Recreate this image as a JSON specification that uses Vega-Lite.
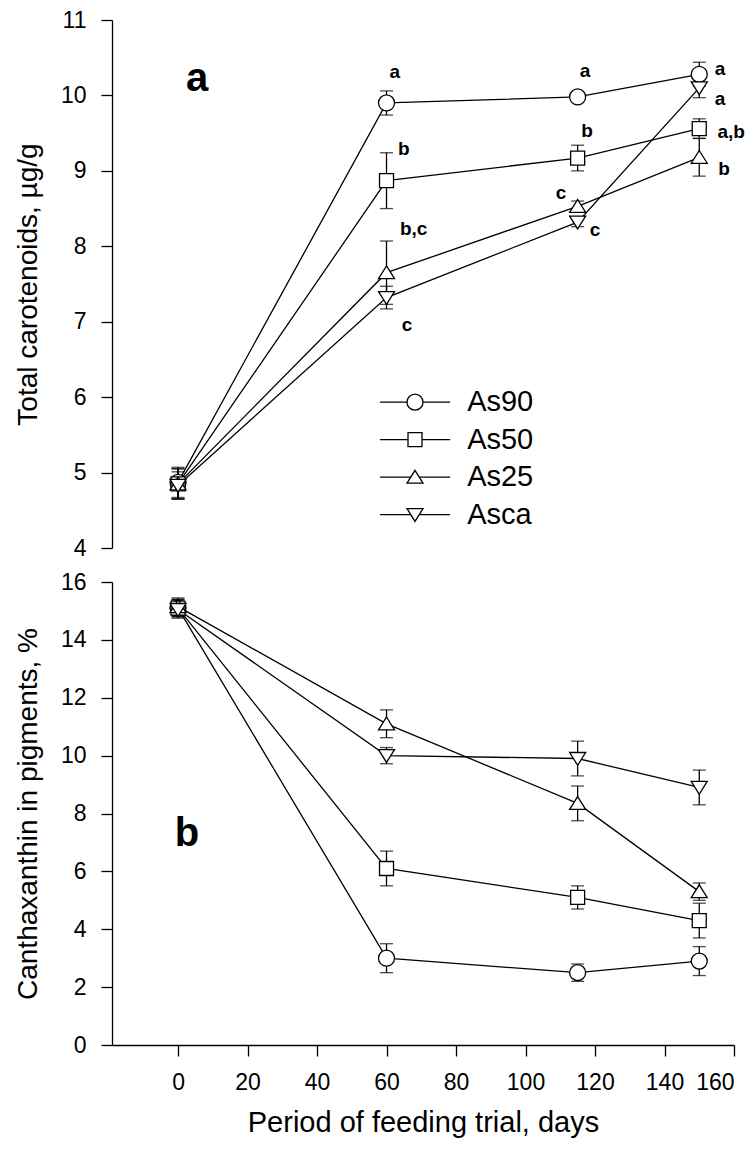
{
  "$schema": "https://vega.github.io/schema/vega-lite/v6.json",
  "autosize": {"type": "pad"},
  "padding": {"left": 14, "top": 9, "right": 5, "bottom": 5},
  "background": "white",
  "config": {
    "font": "Liberation Sans",
    "view": {"stroke": null},
    "axis": {
      "domainColor": "black", "domainWidth": 1.3,
      "tickColor": "black", "tickWidth": 1.3, "tickSize": 11,
      "labelFontSize": 23, "labelColor": "black", "labelPadding": 15, "labelFont": "Liberation Sans",
      "titleFontSize": 28, "titleFontWeight": "normal", "titleColor": "black", "titleFont": "Liberation Sans",
      "grid": false, "format": "d"
    }
  },
  "datasets": {
    "carot": [
      {"series": "As90", "day": 0, "v": 4.87, "e": 0.2},
      {"series": "As90", "day": 60, "v": 9.9, "e": 0.16},
      {"series": "As90", "day": 115, "v": 9.98, "e": 0.05},
      {"series": "As90", "day": 150, "v": 10.28, "e": 0.16},
      {"series": "As50", "day": 0, "v": 4.85, "e": 0.2},
      {"series": "As50", "day": 60, "v": 8.87, "e": 0.37},
      {"series": "As50", "day": 115, "v": 9.17, "e": 0.17},
      {"series": "As50", "day": 150, "v": 9.56, "e": 0.13},
      {"series": "As25", "day": 0, "v": 4.85, "e": 0.2},
      {"series": "As25", "day": 60, "v": 7.65, "e": 0.42},
      {"series": "As25", "day": 115, "v": 8.53, "e": 0.07},
      {"series": "As25", "day": 150, "v": 9.18, "e": 0.25},
      {"series": "Asca", "day": 0, "v": 4.83, "e": 0.18},
      {"series": "Asca", "day": 60, "v": 7.32, "e": 0.15},
      {"series": "Asca", "day": 115, "v": 8.32, "e": 0.06},
      {"series": "Asca", "day": 150, "v": 10.1, "e": 0.13}
    ],
    "canth": [
      {"series": "As90", "day": 0, "v": 15.1, "e": 0.3},
      {"series": "As90", "day": 60, "v": 3.0, "e": 0.5},
      {"series": "As90", "day": 115, "v": 2.5, "e": 0.3},
      {"series": "As90", "day": 150, "v": 2.9, "e": 0.5},
      {"series": "As50", "day": 0, "v": 15.1, "e": 0.3},
      {"series": "As50", "day": 60, "v": 6.1, "e": 0.6},
      {"series": "As50", "day": 115, "v": 5.1, "e": 0.4},
      {"series": "As50", "day": 150, "v": 4.3, "e": 0.6},
      {"series": "As25", "day": 0, "v": 15.15, "e": 0.3},
      {"series": "As25", "day": 60, "v": 11.1, "e": 0.48},
      {"series": "As25", "day": 115, "v": 8.35, "e": 0.6},
      {"series": "As25", "day": 150, "v": 5.3, "e": 0.3},
      {"series": "Asca", "day": 0, "v": 15.05, "e": 0.3},
      {"series": "Asca", "day": 60, "v": 10.0, "e": 0.28},
      {"series": "Asca", "day": 115, "v": 9.9, "e": 0.6},
      {"series": "Asca", "day": 150, "v": 8.9, "e": 0.6}
    ],
    "letters": [
      {"x": 62.4, "y": 10.31, "label": "a"},
      {"x": 65, "y": 9.29, "label": "b"},
      {"x": 67.8, "y": 8.23, "label": "b,c"},
      {"x": 65.9, "y": 6.95, "label": "c"},
      {"x": 117.1, "y": 10.32, "label": "a"},
      {"x": 117.7, "y": 9.53, "label": "b"},
      {"x": 110.2, "y": 8.7, "label": "c"},
      {"x": 120, "y": 8.21, "label": "c"},
      {"x": 156, "y": 10.35, "label": "a"},
      {"x": 156, "y": 9.95, "label": "a"},
      {"x": 159.2, "y": 9.52, "label": "a,b"},
      {"x": 157.1, "y": 9.03, "label": "b"}
    ],
    "legendRows": [
      {"series": "As90", "rank": 0},
      {"series": "As50", "rank": 1},
      {"series": "As25", "rank": 2},
      {"series": "Asca", "rank": 3}
    ],
    "panelA": [{"x": 5.5, "y": 10.06, "label": "a"}],
    "panelB": [{"x": 2.6, "y": 6.89, "label": "b"}]
  },
  "spacing": 11,
  "resolve": {"scale": {"x": "independent", "y": "independent", "shape": "independent"}},
  "vconcat": [
    {
      "width": 622,
      "height": 528,
      "resolve": {"scale": {"y": "independent"}},
      "layer": [
        {
          "layer": [
            {
              "data": {"name": "carot"},
              "mark": {"type": "errorbar", "color": "black", "thickness": 1.3, "ticks": {"size": 13, "thickness": 1.3, "color": "black"}},
              "encoding": {
                "x": {"field": "day", "type": "quantitative", "scale": {"domain": [-19, 160], "nice": false, "zero": false}, "axis": null},
                "y": {"field": "v", "type": "quantitative", "scale": {"domain": [4, 11], "nice": false, "zero": false}, "axis": {"title": "Total carotenoids, µg/g", "values": [4, 5, 6, 7, 8, 9, 10, 11], "titlePadding": 18}},
                "yError": {"field": "e"},
                "detail": {"field": "series"}
              }
            },
            {
              "data": {"name": "carot"},
              "mark": {"type": "line", "color": "black", "strokeWidth": 1.3},
              "encoding": {
                "x": {"field": "day", "type": "quantitative"},
                "y": {"field": "v", "type": "quantitative"},
                "detail": {"field": "series"},
                "order": {"field": "day", "type": "quantitative"}
              }
            },
            {
              "data": {"name": "carot"},
              "mark": {"type": "point", "filled": true, "fill": "white", "stroke": "black", "strokeWidth": 1.3, "size": 256, "opacity": 1},
              "encoding": {
                "x": {"field": "day", "type": "quantitative"},
                "y": {"field": "v", "type": "quantitative"},
                "shape": {
                  "field": "series", "type": "nominal",
                  "scale": {
                    "domain": ["As90", "As50", "As25", "Asca"],
                    "range": [
                      "M1,0A1,1,0,1,1,-1,0A1,1,0,1,1,1,0Z",
                      "M-0.875,-0.875H0.875V0.875H-0.875Z",
                      "M0,-0.85L1,0.75L-1,0.75Z",
                      "M0,0.85L1,-0.75L-1,-0.75Z"
                    ]
                  },
                  "legend": null
                }
              }
            },
            {
              "data": {"name": "letters"},
              "mark": {"type": "text", "fontWeight": "bold", "fontSize": 19, "align": "center", "baseline": "middle", "color": "black", "font": "Liberation Sans"},
              "encoding": {
                "x": {"field": "x", "type": "quantitative"},
                "y": {"field": "y", "type": "quantitative"},
                "text": {"field": "label"}
              }
            },
            {
              "data": {"name": "panelA"},
              "mark": {"type": "text", "fontWeight": "bold", "fontSize": 40, "align": "center", "baseline": "alphabetic", "color": "black", "font": "Liberation Sans"},
              "encoding": {
                "x": {"field": "x", "type": "quantitative"},
                "y": {"field": "y", "type": "quantitative"},
                "text": {"field": "label"}
              }
            }
          ]
        },
        {
          "data": {"name": "legendRows"},
          "encoding": {
            "y": {"field": "rank", "type": "quantitative", "scale": {"domain": [-10.19, 3.89], "reverse": true, "nice": false, "zero": false}, "axis": null}
          },
          "layer": [
            {
              "mark": {"type": "rule", "color": "black", "strokeWidth": 1.3},
              "encoding": {
                "x": {"datum": 58.1, "type": "quantitative"},
                "x2": {"datum": 78.3}
              }
            },
            {
              "mark": {"type": "point", "filled": true, "fill": "white", "stroke": "black", "strokeWidth": 1.3, "size": 256, "opacity": 1},
              "encoding": {
                "x": {"datum": 68.2, "type": "quantitative"},
                "shape": {"field": "series", "type": "nominal", "legend": null}
              }
            },
            {
              "mark": {"type": "text", "fontSize": 29, "align": "left", "baseline": "middle", "color": "black", "font": "Liberation Sans"},
              "encoding": {
                "x": {"datum": 83.2, "type": "quantitative"},
                "text": {"field": "series"}
              }
            }
          ]
        }
      ]
    },
    {
      "width": 622,
      "height": 463,
      "layer": [
        {
          "data": {"name": "canth"},
          "mark": {"type": "errorbar", "color": "black", "thickness": 1.3, "ticks": {"size": 13, "thickness": 1.3, "color": "black"}},
          "encoding": {
            "x": {"field": "day", "type": "quantitative", "scale": {"domain": [-19, 160], "nice": false, "zero": false}, "axis": {"title": "Period of feeding trial, days", "values": [0, 20, 40, 60, 80, 100, 120, 140, 160], "titleFontSize": 29, "titlePadding": 14}},
            "y": {"field": "v", "type": "quantitative", "scale": {"domain": [0, 16], "nice": false, "zero": false}, "axis": {"title": "Canthaxanthin in pigments, %", "values": [0, 2, 4, 6, 8, 10, 12, 14, 16], "titlePadding": 18}},
            "yError": {"field": "e"},
            "detail": {"field": "series"}
          }
        },
        {
          "data": {"name": "canth"},
          "mark": {"type": "line", "color": "black", "strokeWidth": 1.3},
          "encoding": {
            "x": {"field": "day", "type": "quantitative"},
            "y": {"field": "v", "type": "quantitative"},
            "detail": {"field": "series"},
            "order": {"field": "day", "type": "quantitative"}
          }
        },
        {
          "data": {"name": "canth"},
          "mark": {"type": "point", "filled": true, "fill": "white", "stroke": "black", "strokeWidth": 1.3, "size": 256, "opacity": 1},
          "encoding": {
            "x": {"field": "day", "type": "quantitative"},
            "y": {"field": "v", "type": "quantitative"},
            "shape": {
              "field": "series", "type": "nominal",
              "scale": {
                "domain": ["As90", "As50", "As25", "Asca"],
                "range": [
                  "M1,0A1,1,0,1,1,-1,0A1,1,0,1,1,1,0Z",
                  "M-0.875,-0.875H0.875V0.875H-0.875Z",
                  "M0,-0.85L1,0.75L-1,0.75Z",
                  "M0,0.85L1,-0.75L-1,-0.75Z"
                ]
              },
              "legend": null
            }
          }
        },
        {
          "data": {"name": "panelB"},
          "mark": {"type": "text", "fontWeight": "bold", "fontSize": 40, "align": "center", "baseline": "alphabetic", "color": "black", "font": "Liberation Sans"},
          "encoding": {
            "x": {"field": "x", "type": "quantitative"},
            "y": {"field": "y", "type": "quantitative"},
            "text": {"field": "label"}
          }
        }
      ]
    }
  ]
}
